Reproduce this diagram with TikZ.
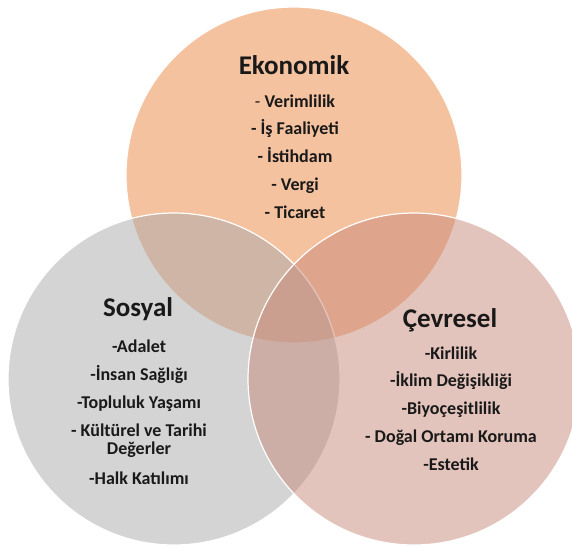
\documentclass[tikz,border=0pt]{standalone}
\usepackage{fontspec}
\setmainfont{Carlito}
\usetikzlibrary{positioning}
\definecolor{ekoColor}{RGB}{236,134,66}
\definecolor{sosColor}{RGB}{170,170,170}
\definecolor{cevColor}{RGB}{200,138,122}
\tikzset{
x=1pt, y=-1pt, % one unit is one pixel, y runs downwards
set/.style={draw=white, line width=1.2pt, fill opacity=0.5}, % the three circles
title/.style={font=\fontsize{27}{30}\selectfont\bfseries, text=black!90, inner sep=0pt, anchor=base}, % circle headings
item/.style={font=\fontsize{18}{27.75}\selectfont\bfseries, text=black!90, align=center, inner sep=0pt, anchor=base}, % lists, placed by their last line
}

\begin{document}
\begin{tikzpicture}
                \useasboundingbox (0,0) rectangle (572,547);
                \clip (0,0) rectangle (572,547);
                \fill[white] (0,0) rectangle (572,547);
                \filldraw[set, fill=ekoColor] (294,175) circle[radius=168pt];
                \filldraw[set, fill=sosColor] (174,379) circle[radius=166pt];
                \filldraw[set, fill=cevColor] (414,379) circle[radius=166pt];
                \node[title] (eko) at (294,74) {Ekonomik};
                \node[item] (ekoItems) at (295,218) {{\mdseries-} Verimlilik\\- İş Faaliyeti\\- İstihdam\\- Vergi\\- Ticaret};
                \node[title] (sos) at (138,316) {Sosyal};
                \node[item] (sosItems) at (139,484) {-Adalet\\-İnsan Sağlığı\\-Topluluk Yaşamı\\- Kültürel ve Tarihi\\[-9.5pt]Değerler\\[2pt]-Halk Katılımı};
                \node[title] (cev) at (450,327) {Çevresel};
                \node[item] (cevItems) at (451,470) {-Kirlilik\\-İklim Değişikliği\\-Biyoçeşitlilik\\- Doğal Ortamı Koruma\\-Estetik};
            \end{tikzpicture}
\end{document}
